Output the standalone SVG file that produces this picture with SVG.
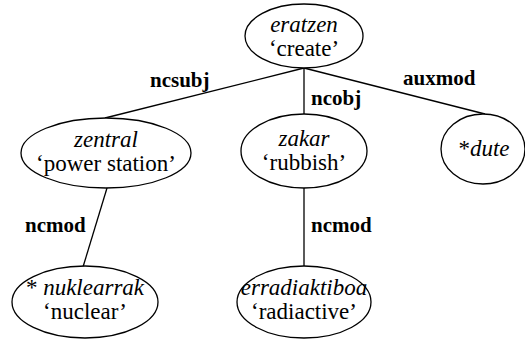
<svg xmlns="http://www.w3.org/2000/svg" width="525" height="343" viewBox="0 0 525 343">
<style>
.node ellipse{fill:#fff;stroke:#000;stroke-width:1.3}
.t{text-anchor:middle;fill:#000}
.i{font-style:italic}
.lab{font-weight:bold;fill:#000}
.edges line{stroke:#000;stroke-width:1.3}
</style>
<rect width="525" height="343" fill="#fff"/>
<g class="edges" id="connectors">
<line x1="304" y1="68" x2="105" y2="118"/>
<line x1="304" y1="68" x2="304" y2="114"/>
<line x1="304" y1="68" x2="485" y2="114"/>
<line x1="107" y1="188" x2="83" y2="267"/>
<line x1="304" y1="188" x2="304" y2="266"/>
<text class="lab" x="150" y="87" style="font-family:'Liberation Serif',serif;font-size:21px">ncsubj</text>
<text class="lab" x="311" y="105" style="font-family:'Liberation Serif',serif;font-size:21px">ncobj</text>
<text class="lab" x="403" y="85" style="font-family:'Liberation Serif',serif;font-size:21px">auxmod</text>
<text class="lab" x="25" y="232" style="font-family:'Liberation Serif',serif;font-size:21px">ncmod</text>
<text class="lab" x="311" y="232" style="font-family:'Liberation Serif',serif;font-size:21px">ncmod</text>
</g>
<g class="node" id="n-eratzen">
<ellipse cx="304" cy="36" rx="59" ry="32"/>
<text class="t i" x="304" y="32" style="font-family:'Liberation Serif',serif;font-size:23px">eratzen</text>
<text class="t" x="304" y="56" style="font-family:'Liberation Serif',serif;font-size:23px">‘create’</text>
</g>
<g class="node" id="n-zentral">
<ellipse cx="106" cy="153" rx="85" ry="35"/>
<text class="t i" x="106" y="147" style="font-family:'Liberation Serif',serif;font-size:23px">zentral</text>
<text class="t" x="106" y="171" style="font-family:'Liberation Serif',serif;font-size:23px">‘power station’</text>
</g>
<g class="node" id="n-zakar">
<ellipse cx="304" cy="151" rx="63" ry="37"/>
<text class="t i" x="304" y="146" style="font-family:'Liberation Serif',serif;font-size:23px">zakar</text>
<text class="t" x="304" y="170" style="font-family:'Liberation Serif',serif;font-size:23px">‘rubbish’</text>
</g>
<g class="node" id="n-dute">
<ellipse cx="483" cy="149" rx="42" ry="35"/>
<text class="t" x="484" y="156" style="font-family:'Liberation Serif',serif;font-size:23px">*<tspan class="i">dute</tspan></text>
</g>
<g class="node" id="n-nuklearrak">
<ellipse cx="85" cy="302" rx="73" ry="36"/>
<text class="t" x="85" y="295" style="font-family:'Liberation Serif',serif;font-size:23px">* <tspan class="i">nuklearrak</tspan></text>
<text class="t" x="85" y="319" style="font-family:'Liberation Serif',serif;font-size:23px">‘nuclear’</text>
</g>
<g class="node" id="n-erradiaktiboa">
<ellipse cx="304" cy="302" rx="67" ry="36"/>
<text class="t i" x="304" y="295" style="font-family:'Liberation Serif',serif;font-size:23px">erradiaktiboa</text>
<text class="t" x="304" y="319" style="font-family:'Liberation Serif',serif;font-size:23px">‘radiactive’</text>
</g>
</svg>
